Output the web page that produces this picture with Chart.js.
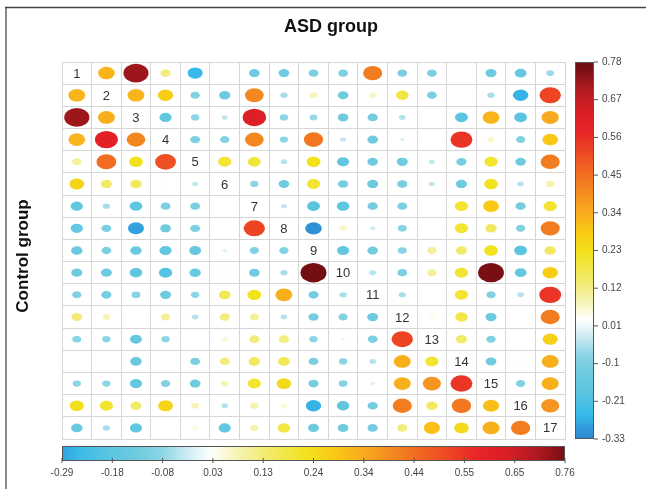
<!DOCTYPE html>
<html><head><meta charset="utf-8">
<script src="https://cdn.jsdelivr.net/npm/chart.js@4"></script>
<style>html,body{margin:0;padding:0;background:#fff}#wrap{position:relative;width:646px;height:489px}</style>
</head><body><div id="wrap"><canvas id="c" width="646" height="489"></canvas></div>
<script>
const varLabels = ['1','2','3','4','5','6','7','8','9','10','11','12','13','14','15','16','17'];
const titleTop = 'ASD group';
const titleLeft = 'Control group';
const rightTicks = ['0.78','0.67','0.56','0.45','0.34','0.23','0.12','0.01','-0.1','-0.21','-0.33'];
const bottomTicks = ['-0.29','-0.18','-0.08','0.03','0.13','0.24','0.34','0.44','0.55','0.65','0.76'];
const rightRange = [-0.33, 0.78];
const bottomRange = [-0.29, 0.76];

const row1  = [null, 0.32, 0.72, 0.12, -0.26, 0.00, -0.13, -0.13, -0.11, -0.11, 0.42, -0.11, -0.11, 0.00, -0.14, -0.16, -0.07];
const row2  = [0.32, null, 0.32, 0.27, -0.10, -0.14, 0.40, -0.06, 0.07, -0.13, 0.06, 0.18, -0.11, 0.00, -0.06, -0.27, 0.52];
const row3  = [0.72, 0.33, null, -0.17, -0.08, -0.04, 0.62, -0.08, -0.07, -0.13, -0.12, -0.05, 0.00, -0.19, 0.32, -0.19, 0.34];
const row4  = [0.32, 0.60, 0.40, null, -0.11, -0.10, 0.40, -0.08, 0.43, -0.04, -0.13, -0.02, 0.00, 0.55, 0.06, -0.10, 0.28];
const row5  = [0.10, 0.45, 0.22, 0.50, null, 0.20, 0.19, -0.05, 0.22, -0.17, -0.13, -0.14, -0.04, -0.12, 0.20, -0.13, 0.42];
const row6  = [0.25, 0.14, 0.15, 0.01, -0.04, null, -0.08, -0.13, 0.20, -0.12, -0.14, -0.12, -0.04, -0.14, 0.22, -0.05, 0.08];
const row7  = [-0.17, -0.06, -0.18, -0.11, -0.11, 0.00, null, -0.04, -0.19, -0.18, -0.12, -0.11, 0.00, 0.20, 0.28, -0.12, 0.20];
const row8  = [-0.17, -0.11, -0.29, -0.13, -0.11, 0.00, 0.52, null, -0.31, 0.06, -0.03, -0.09, 0.00, 0.20, 0.15, -0.10, 0.42];
const row9  = [-0.15, -0.11, -0.15, -0.17, -0.16, -0.02, -0.10, -0.10, null, -0.17, -0.13, -0.09, 0.10, 0.14, 0.22, -0.19, 0.15];
const row10 = [-0.14, -0.14, -0.18, -0.20, -0.15, 0.03, -0.13, -0.06, 0.77, null, -0.05, -0.11, 0.10, 0.20, 0.76, -0.16, 0.27];
const row11 = [-0.10, -0.12, -0.09, -0.14, -0.08, 0.16, 0.22, 0.33, -0.12, -0.06, null, -0.06, 0.00, 0.20, -0.10, -0.05, 0.55];
const row12 = [0.13, 0.07, 0.00, 0.10, -0.05, 0.12, 0.10, -0.05, -0.12, -0.10, -0.14, null, 0.04, 0.18, -0.14, 0.00, 0.42];
const row13 = [-0.09, -0.08, -0.16, -0.08, 0.00, 0.05, 0.12, 0.12, -0.08, -0.01, -0.11, 0.52, null, 0.14, -0.10, 0.00, 0.26];
const row14 = [0.00, 0.00, -0.15, 0.00, -0.11, 0.12, 0.15, 0.16, -0.11, -0.08, -0.05, 0.33, 0.20, null, -0.13, 0.03, 0.33];
const row15 = [-0.08, -0.08, -0.17, -0.10, -0.13, 0.07, 0.20, 0.24, -0.12, -0.09, -0.02, 0.33, 0.38, 0.55, null, -0.10, 0.33];
const row16 = [0.23, 0.20, 0.14, 0.25, 0.07, -0.05, 0.08, 0.05, -0.27, -0.18, -0.12, 0.42, 0.15, 0.43, 0.30, null, 0.38];
const row17 = [-0.15, -0.06, -0.17, 0.00, 0.04, -0.17, 0.08, 0.18, -0.14, -0.13, -0.12, 0.12, 0.30, 0.24, 0.33, 0.42, null];
const rows = [row1,row2,row3,row4,row5,row6,row7,row8,row9,row10,row11,row12,row13,row14,row15,row16,row17];

const colorStops = [
  [-0.33,[45,135,208]],[-0.30,[48,152,218]],[-0.26,[55,186,234]],[-0.20,[88,196,225]],
  [-0.13,[112,203,223]],[-0.08,[140,213,229]],[-0.04,[192,231,240]],[0.02,[255,255,255]],[0.08,[246,242,175]],
  [0.14,[242,234,105]],[0.22,[242,226,30]],[0.28,[250,200,20]],[0.34,[248,170,30]],
  [0.42,[242,125,32]],[0.50,[238,80,35]],[0.58,[232,35,40]],[0.64,[215,30,38]],
  [0.70,[175,26,32]],[0.76,[120,15,20]],[0.78,[110,12,18]]
];
function colorFor(v){
  if (v <= colorStops[0][0]) return 'rgb('+colorStops[0][1].join(',')+')';
  for (let i=1;i<colorStops.length;i++){
    if (v <= colorStops[i][0]){
      const [a,ca]=colorStops[i-1],[b,cb]=colorStops[i];
      const t=(v-a)/(b-a);
      return 'rgb('+ca.map((c,k)=>Math.round(c+(cb[k]-c)*t)).join(',')+')';
    }
  }
  return 'rgb('+colorStops[colorStops.length-1][1].join(',')+')';
}

const points = [];
rows.forEach((r,i)=>r.forEach((v,j)=>{ if (v!==null) points.push({x:j+1,y:i+1,v:v}); }));
const diag = varLabels.map((l,i)=>({x:i+1,y:i+1,label:l}));
const edges = [];
for (let i=0;i<=varLabels.length;i++) edges.push(i+0.5);

const FONT = '"Liberation Sans", Arial, sans-serif';

const corrPlugin = {
  id:'corr',
  beforeDraw(chart){
    const c=chart.ctx;
    c.save(); c.fillStyle='#fff'; c.fillRect(0,0,chart.width,chart.height); c.restore();
  },
  afterDatasetsDraw(chart){
    const c=chart.ctx, xs=chart.scales.x, ys=chart.scales.y;
    const cw=Math.abs(xs.getPixelForValue(1)-xs.getPixelForValue(0));
    const ch=Math.abs(ys.getPixelForValue(1)-ys.getPixelForValue(0));
    const meta=chart.getDatasetMeta(0);
    const data=chart.data.datasets[0].data;
    c.save();
    meta.data.forEach((el,i)=>{
      const v=data[i].v; const s=Math.sqrt(Math.abs(v));
      if (s<=0) return;
      c.beginPath();
      c.ellipse(el.x,el.y,cw/2*s,ch/2*s,0,0,Math.PI*2);
      c.fillStyle=colorFor(v);
      c.fill();
    });
    const meta2=chart.getDatasetMeta(1);
    c.fillStyle='#333'; c.font='13px '+FONT; c.textAlign='center'; c.textBaseline='middle';
    meta2.data.forEach((el,i)=>{ c.fillText(chart.data.datasets[1].data[i].label, el.x, el.y+1); });
    c.restore();
  },
  afterDraw(chart){
    const c=chart.ctx, a=chart.chartArea;
    c.save();
    c.strokeStyle='#8a8a8a'; c.lineWidth=2;
    c.beginPath(); c.moveTo(6,7); c.lineTo(6,489); c.stroke();
    c.strokeStyle='#444'; c.lineWidth=1.5;
    c.beginPath(); c.moveTo(5,7.5); c.lineTo(646,7.5); c.stroke();
    c.fillStyle='#111'; c.textAlign='center'; c.textBaseline='middle';
    c.font='bold 18px '+FONT;
    c.fillText(titleTop, 331, 27);
    c.save(); c.translate(23,256); c.rotate(-Math.PI/2);
    c.font='bold 17px '+FONT; c.fillText(titleLeft,0,0); c.restore();
    const rx0=a.right+10, rx1=a.right+29, ry0=a.top, ry1=a.bottom;
    let g=c.createLinearGradient(0,ry1,0,ry0);
    for (let k=0;k<=60;k++){ const t=k/60; g.addColorStop(t,colorFor(rightRange[0]+(rightRange[1]-rightRange[0])*t)); }
    c.fillStyle=g; c.fillRect(rx0,ry0,rx1-rx0,ry1-ry0);
    c.strokeStyle='#555'; c.lineWidth=1; c.strokeRect(rx0+0.5,ry0+0.5,rx1-rx0-1,ry1-ry0-1);
    c.fillStyle='#444'; c.font='10px '+FONT; c.textAlign='left'; c.textBaseline='middle';
    rightTicks.forEach((t,i)=>{
      const y=ry0+(ry1-ry0)*i/(rightTicks.length-1);
      c.beginPath(); c.moveTo(rx1,y); c.lineTo(rx1+4,y); c.strokeStyle='#555'; c.stroke();
      c.fillText(t, rx1+8, y);
    });
    const bx0=a.left, bx1=a.right, by0=a.bottom+7, by1=a.bottom+22;
    g=c.createLinearGradient(bx0,0,bx1,0);
    for (let k=0;k<=60;k++){ const t=k/60; g.addColorStop(t,colorFor(bottomRange[0]+(bottomRange[1]-bottomRange[0])*t)); }
    c.fillStyle=g; c.fillRect(bx0,by0,bx1-bx0,by1-by0);
    c.strokeStyle='#555'; c.strokeRect(bx0+0.5,by0+0.5,bx1-bx0-1,by1-by0-1);
    c.fillStyle='#444'; c.textAlign='center'; c.textBaseline='middle';
    bottomTicks.forEach((t,i)=>{
      const x=bx0+(bx1-bx0)*i/(bottomTicks.length-1);
      c.beginPath(); c.moveTo(x,by1-3); c.lineTo(x,by1+2); c.strokeStyle='#555'; c.stroke();
      c.fillText(t, x, by1+12);
    });
    c.restore();
  }
};

new Chart(document.getElementById('c').getContext('2d'), {
  type:'scatter',
  data:{datasets:[
    {data:points,pointRadius:0,pointHoverRadius:0},
    {data:diag,pointRadius:0,pointHoverRadius:0}
  ]},
  options:{
    responsive:false, animation:false, events:[],
    plugins:{legend:{display:false},tooltip:{enabled:false},title:{display:false}},
    layout:{padding:{left:62,right:81,top:62,bottom:50}},
    scales:{
      x:{type:'linear',min:0.5,max:17.5,
         afterBuildTicks:s=>{s.ticks=edges.map(v=>({value:v}));},
         ticks:{display:false},grid:{color:'#d6d6d6',drawTicks:false},border:{color:'#d6d6d6'}},
      y:{type:'linear',min:0.5,max:17.5,reverse:true,
         afterBuildTicks:s=>{s.ticks=edges.map(v=>({value:v}));},
         ticks:{display:false},grid:{color:'#d6d6d6',drawTicks:false},border:{color:'#d6d6d6'}}
    }
  },
  plugins:[corrPlugin]
});
</script></body></html>
